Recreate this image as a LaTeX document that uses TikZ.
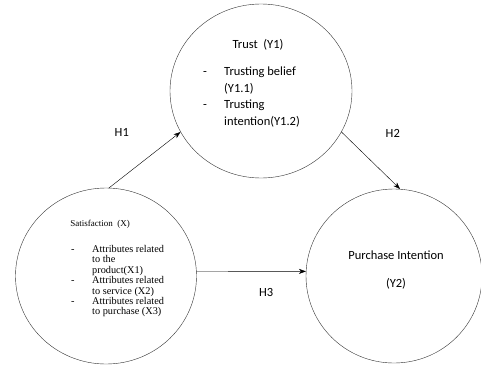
\documentclass[tikz,border=0pt]{standalone}
\usepackage{fontspec}
\setmainfont{Carlito}
\newfontfamily\timesfont{Liberation Serif}
\usetikzlibrary{arrows.meta,shapes.geometric,positioning}

\begin{document}
\begin{tikzpicture}[
      x=1pt, y=-1pt,
      myvar/.style={
         ellipse,
         draw=black!80,
         thin,
         inner sep=0pt},
      myarrow/.style={-{Stealth[length=7pt,width=5pt]}, thin},
      mylabel/.style={font=\fontsize{12.5}{16.5}\selectfont},
      mysmall/.style={font=\timesfont\fontsize{10.3}{10.4}\selectfont},
      mylist/.style={anchor=north west, inner sep=0pt}
      ]
      \useasboundingbox (0,0) rectangle (481,367);

      % the three variables
      \node[myvar, minimum width=182pt, minimum height=174pt] (trust) at (261,91) {};
      \node[myvar, minimum width=181pt, minimum height=176pt] (sat) at (106,276) {};
      \node[myvar, minimum width=176pt, minimum height=174pt] (pi) at (394,276) {};

      % texts inside
      \node[mylabel] (trusttitle) at (258,45) {Trust~~(Y1)};
      \node[mylabel, mylist] (trustlist) at (203,64) {%
         \begin{tabular}{@{}p{21pt}@{}l@{}}
         - & Trusting belief\\
           & (Y1.1)\\
         - & Trusting\\
           & intention(Y1.2)
         \end{tabular}};
      \node[mysmall, font=\timesfont\fontsize{9}{10}\selectfont] (sattitle) at (100,224) {Satisfaction~~(X)};
      \node[mysmall, mylist] (satlist) at (71,245) {%
         \begin{tabular}{@{}p{21pt}@{}l@{}}
         - & Attributes related\\
           & to the\\
           & product(X1)\\
         - & Attributes related\\
           & to service (X2)\\
         - & Attributes related\\
           & to purchase (X3)
         \end{tabular}};
      \node[mylabel] (pititle) at (396,255) {Purchase Intention};
      \node[mylabel] (pinum) at (396,284) {(Y2)};

    \foreach \i/\j/\txt/\dx/\dy in {% start/end/hypothesis/label shift
      sat.88/trust.207/H1/-23/27,
      trust.333/pi.86/H2/22/27,
      sat.3/pi.177/H3/15/-21}
       \draw [myarrow] (\i) -- node[mylabel,xshift=\dx pt,yshift=\dy pt] {\txt} (\j);
\end{tikzpicture}
\end{document}
